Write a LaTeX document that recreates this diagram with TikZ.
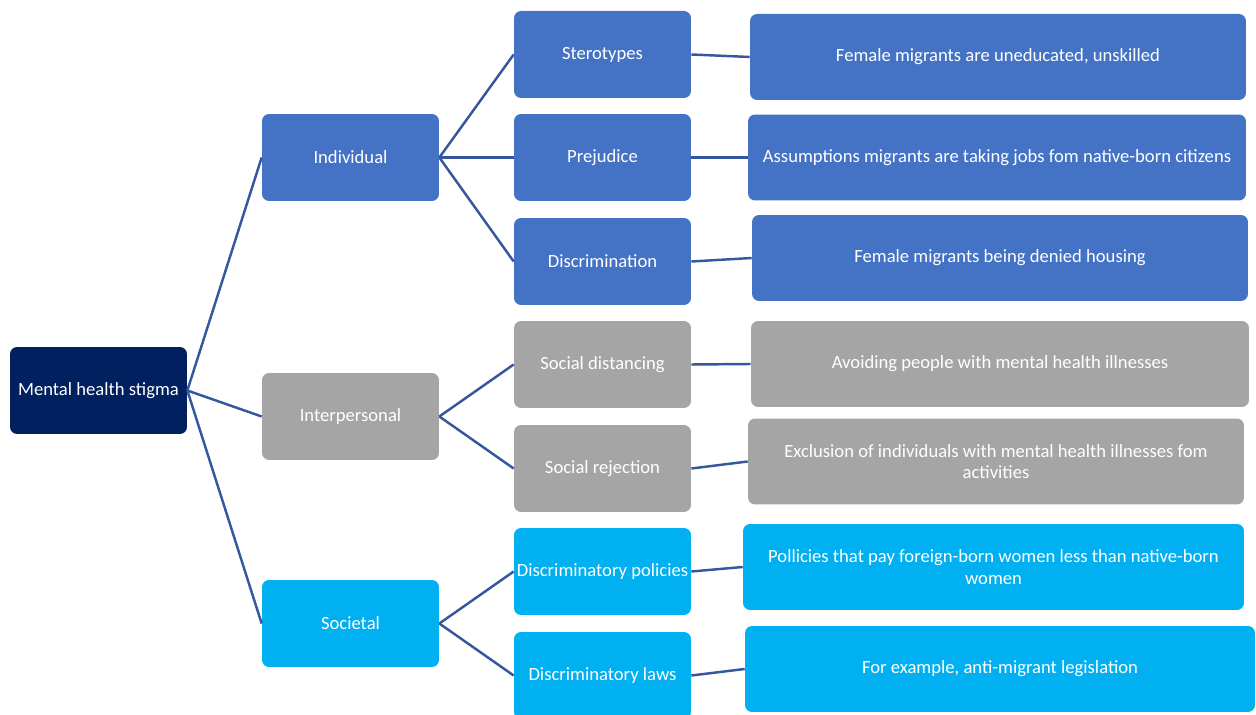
\documentclass[tikz,border=0pt]{standalone}
\usepackage{fontspec}
\setmainfont{Carlito}
\definecolor{navy}{RGB}{0,32,96}
\definecolor{blueA}{RGB}{68,114,196}
\definecolor{greyA}{RGB}{165,165,165}
\definecolor{cyanA}{RGB}{0,176,240}
\definecolor{linkblue}{RGB}{52,87,158}

\tikzset{
  box/.style={rounded corners=4pt, text=white, align=center, inner sep=1pt,
    font=\fontsize{10.6}{12.4}\selectfont, minimum width=3.54cm, minimum height=1.74cm},
  leaf/.style={box, minimum height=1.72cm},
  link/.style={draw=linkblue, line width=1.4pt}
}

\begin{document}
\begin{tikzpicture}[x=0.02cm,y=-0.02cm]
\useasboundingbox (0,0) rectangle (1256,715);
\clip (0,0) rectangle (1256,715);

% root and levels
\node[box, fill=navy] (stigma) at (98.5,390.5) {Mental health stigma};
\node[box, fill=blueA] (indiv) at (350.5,157.5) {Individual};
\node[box, fill=greyA] (inter) at (350.5,416.5) {Interpersonal};
\node[box, fill=cyanA] (soc) at (350.5,623.5) {Societal};

\node[box, fill=blueA] (stereo) at (602.5,54.5) {Sterotypes};
\node[box, fill=blueA] (prej) at (602.5,157.5) {Prejudice};
\node[box, fill=blueA] (discr) at (602.5,261.5) {Discrimination};
\node[box, fill=greyA] (dist) at (602.5,364.5) {Social distancing};
\node[box, fill=greyA] (rej) at (602.5,468.5) {Social rejection};
\node[box, fill=cyanA] (pol) at (602.5,571.5) {Discriminatory policies};
\node[box, fill=cyanA] (laws) at (602.5,675.5) {Discriminatory laws};

% examples
\node[leaf, fill=blueA, minimum width=9.92cm] (ex1) at (998,57) {Female migrants are uneducated, unskilled};
\node[leaf, fill=blueA, minimum width=9.96cm] (ex2) at (997,157.5) {Assumptions migrants are taking jobs fom native-born citizens};
\node[leaf, fill=blueA, minimum width=9.92cm] (ex3) at (1000,258) {Female migrants being denied housing};
\node[leaf, fill=greyA, minimum width=9.96cm] (ex4) at (1000,364) {Avoiding people with mental health illnesses};
\node[leaf, fill=greyA, minimum width=9.92cm] (ex5) at (996,461.5) {Exclusion of individuals with mental health illnesses fom\\activities};
\node[leaf, fill=cyanA, minimum width=10.02cm] (ex6) at (993.5,567) {Pollicies that pay foreign-born women less than native-born\\women};
\node[leaf, fill=cyanA, minimum width=10.2cm] (ex7) at (1000,669) {For example, anti-migrant legislation};

% connectors
\foreach \a/\b in {stigma/indiv, stigma/inter, stigma/soc,
                   indiv/stereo, indiv/prej, indiv/discr,
                   inter/dist, inter/rej, soc/pol, soc/laws,
                   stereo/ex1, prej/ex2, discr/ex3, dist/ex4,
                   rej/ex5, pol/ex6, laws/ex7}
  \draw[link] (\a.east) -- (\b.west);
\end{tikzpicture}
\end{document}
